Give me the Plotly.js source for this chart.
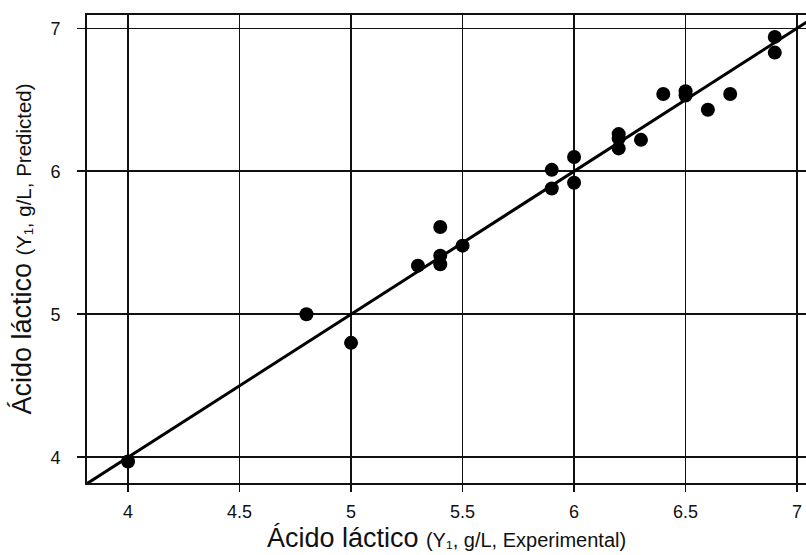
<!DOCTYPE html>
<html>
<head>
<meta charset="utf-8">
<script src="https://cdn.plot.ly/plotly-3.0.1.min.js"></script>
<style>html,body{margin:0;padding:0;background:#fff}#chart{width:806px;height:555px}</style>
</head>
<body>
<div id="chart"></div>
<script>
// Experimental vs predicted lactic acid (g/L)
const experimental = [4.0, 4.8, 5.0, 5.3, 5.4, 5.4, 5.4, 5.5, 5.9, 5.9, 6.0, 6.0, 6.2, 6.2, 6.2, 6.3, 6.4, 6.5, 6.5, 6.6, 6.7, 6.9, 6.9];
const predicted    = [3.97, 5.0, 4.80, 5.34, 5.61, 5.41, 5.35, 5.48, 6.01, 5.88, 6.10, 5.92, 6.26, 6.23, 6.16, 6.22, 6.54, 6.56, 6.53, 6.43, 6.54, 6.94, 6.83];
// identity line y = x
const identity = [3.5, 7.5];
const xTicks = [4, 4.5, 5, 5.5, 6, 6.5, 7];
const xTickLabels = ['4', '4.5', '5', '5.5', '6', '6.5', '7'];
const yTicks = [4, 5, 6, 7];
const yTickLabels = ['4', '5', '6', '7'];

const font = 'Liberation Sans, Arial, sans-serif';

const traces = [
  {x: identity, y: identity, mode: 'lines', line: {color: '#000', width: 3}, hoverinfo: 'skip', showlegend: false},
  {x: experimental, y: predicted, mode: 'markers', marker: {color: '#000', size: 14}, showlegend: false}
];

const layout = {
  width: 806, height: 555,
  margin: {l: 87, r: 0, t: 15, b: 72},
  paper_bgcolor: '#fff', plot_bgcolor: '#fff',
  font: {family: font, color: '#111', size: 18},
  showlegend: false,
  xaxis: {
    range: [3.816, 7.04],
    tickvals: xTicks, ticktext: xTickLabels,
    showgrid: true, gridcolor: '#111', gridwidth: 1.6,
    zeroline: false,
    showline: true, linecolor: '#111', linewidth: 2, mirror: true,
    ticks: 'outside', ticklen: 7, tickwidth: 1.6, tickcolor: '#111',
    ticklabelstandoff: 4,
    tickfont: {family: font, size: 18, color: '#111'},
    title: {text: 'Ácido láctico <span style="font-size:20px">(Y₁, g/L, Experimental)</span>', font: {family: font, size: 27, color: '#111'}, standoff: 8}
  },
  yaxis: {
    range: [3.82, 7.093],
    tickvals: yTicks, ticktext: yTickLabels,
    showgrid: true, gridcolor: '#111', gridwidth: 1.6,
    zeroline: false,
    showline: true, linecolor: '#111', linewidth: 2, mirror: false,
    ticks: 'outside', ticklen: 8, tickwidth: 1.6, tickcolor: '#111',
    ticklabelstandoff: 13,
    tickfont: {family: font, size: 18, color: '#111'},
    title: {text: 'Ácido láctico <span style="font-size:20.5px">(Y₁, g/L, Predicted)</span>', font: {family: font, size: 27, color: '#111'}, standoff: 11}
  }
};

Plotly.newPlot('chart', traces, layout, {displayModeBar: false, staticPlot: true});
</script>
</body>
</html>
